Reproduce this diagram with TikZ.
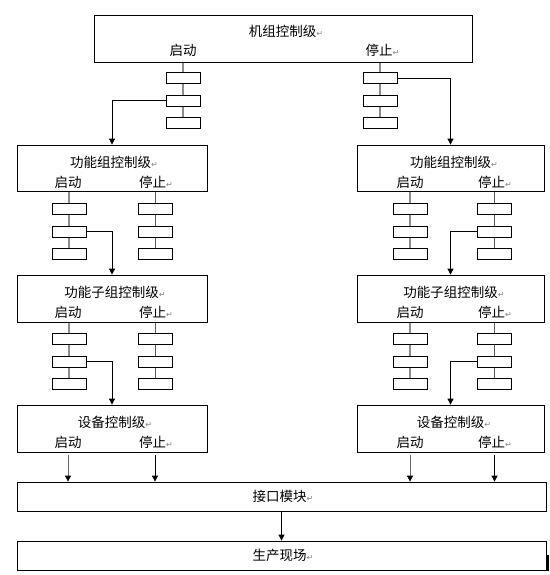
\documentclass[tikz,border=0pt]{standalone}
\usepackage{fontspec}
\setmainfont{Noto Sans CJK SC}
\newfontfamily\dejavu{DejaVu Sans}
\usetikzlibrary{arrows.meta,backgrounds}
\newcommand\rmk{{\dejavu\fontsize{8}{8}\selectfont\color{gray}↵}}
\newcommand\smallcol[5]{%
  \node[sb] (#1 1) at (#2,#3) {};
  \node[sb] (#1 2) at (#2,#4) {};
  \node[sb] (#1 3) at (#2,#5) {};}
\begin{document}
\begin{tikzpicture}[x=1pt,y=-1pt, font=\fontsize{13.5}{15}\selectfont,
  box/.style={draw, line width=0.8pt, fill=white, inner sep=0pt},
  sb/.style={box, minimum width=34pt, minimum height=11pt},
  txt/.style={inner sep=0pt},
  arr/.style={line width=0.8pt, -{Triangle[width=6pt,length=6pt,black]}},
  sarr/.style={arr, draw=black!60},
  gline/.style={line width=1.4pt, black!45},
  dline/.style={line width=1pt, black!65}]
\useasboundingbox (0,0) rectangle (549,575);
% level boxes
\node[box, minimum width=378pt, minimum height=47pt] (top) at (283,38.5) {};
\node[box, minimum width=190pt, minimum height=46pt] (fgL) at (112,168) {};
\node[box, minimum width=187pt, minimum height=46pt] (fgR) at (450.5,168) {};
\node[box, minimum width=190pt, minimum height=47pt] (fsgL) at (112,298.5) {};
\node[box, minimum width=187pt, minimum height=47pt] (fsgR) at (450.5,298.5) {};
\node[box, minimum width=190pt, minimum height=47pt] (devL) at (112,428.5) {};
\node[box, minimum width=187pt, minimum height=47pt] (devR) at (450.5,428.5) {};
\node[box, minimum width=529pt, minimum height=29pt] (iface) at (281.5,496.5) {};
\node[box, minimum width=529pt, minimum height=29pt] (prod) at (281.5,555.5) {};
% texts
\node[txt] (topT) at (286,31) {机组控制级\rmk};
\node[txt] (topS) at (183,50) {启动};
\node[txt, anchor=west] (topP) at (365.5,50) {停止\rmk};
\node[txt] (fgLT) at (114,162) {功能组控制级\rmk};
\node[txt] (fgLS) at (68,182) {启动};
\node[txt, anchor=west] (fgLP) at (139,182) {停止\rmk};
\node[txt] (fgRT) at (454,162) {功能组控制级\rmk};
\node[txt] (fgRS) at (410,182) {启动};
\node[txt, anchor=west] (fgRP) at (478,182) {停止\rmk};
\node[txt] (fsgLT) at (115,292) {功能子组控制级\rmk};
\node[txt] (fsgLS) at (68,312) {启动};
\node[txt, anchor=west] (fsgLP) at (139,312) {停止\rmk};
\node[txt] (fsgRT) at (454,292) {功能子组控制级\rmk};
\node[txt] (fsgRS) at (410,312) {启动};
\node[txt, anchor=west] (fsgRP) at (478,312) {停止\rmk};
\node[txt] (devLT) at (115,422) {设备控制级\rmk};
\node[txt] (devLS) at (68,442) {启动};
\node[txt, anchor=west] (devLP) at (139,442) {停止\rmk};
\node[txt] (devRT) at (454,422) {设备控制级\rmk};
\node[txt] (devRS) at (410,442) {启动};
\node[txt, anchor=west] (devRP) at (478,442) {停止\rmk};
\node[txt] (ifaceT) at (283,496.5) {接口模块\rmk};
\node[txt] (prodT) at (283,555.5) {生产现场\rmk};
% small boxes
\smallcol{tA}{183}{78}{100.5}{122.5}
\smallcol{tB}{380}{78}{100.5}{122.5}
\smallcol{fLA}{69}{208.5}{231.5}{253.5}
\smallcol{fLB}{155}{208.5}{231.5}{253.5}
\smallcol{fRA}{410}{208.5}{231.5}{253.5}
\smallcol{fRB}{494.5}{208.5}{231.5}{253.5}
\smallcol{sLA}{69}{338.5}{361.5}{383.5}
\smallcol{sLB}{155}{338.5}{361.5}{383.5}
\smallcol{sRA}{410}{338.5}{361.5}{383.5}
\smallcol{sRB}{494.5}{338.5}{361.5}{383.5}
% chain lines behind small boxes
\begin{scope}[on background layer]
\draw[gline] (top.south -| tA 1) -- (tA 3.north);
\draw[gline] (top.south -| tB 1) -- (tB 3.north);
\draw[gline] (fgL.south -| fLA 1) -- (fLA 3.north);
\draw[dline] (fgL.south -| fLB 1) -- (fLB 3.north);
\draw[gline] (fgR.south -| fRA 1) -- (fRA 3.north);
\draw[dline] (fgR.south -| fRB 1) -- (fRB 3.north);
\draw[gline] (fsgL.south -| sLA 1) -- (sLA 3.north);
\draw[dline] (fsgL.south -| sLB 1) -- (sLB 3.north);
\draw[gline] (fsgR.south -| sRA 1) -- (sRA 3.north);
\draw[dline] (fsgR.south -| sRB 1) -- (sRB 3.north);
\end{scope}
% arrows
\draw[arr] (tA 2.west) -| (fgL.north);
\draw[arr] (tB 1.east) -| (fgR.north);
\draw[arr] (fLA 2.east) -| (fsgL.north);
\draw[arr] (fRB 2.west) -| (fsgR.north);
\draw[arr] (sLA 2.east) -| (devL.north);
\draw[arr] (sRB 2.west) -| (devR.north);
\draw[sarr] ([yshift=-3pt]devL.south -| devLS) -- (iface.north -| devLS);
\draw[arr] ([yshift=-3pt]devL.south -| sLB 1) -- (iface.north -| sLB 1);
\draw[sarr] ([yshift=-3pt]devR.south -| sRA 1) -- (iface.north -| sRA 1);
\draw[arr] ([yshift=-3pt]devR.south -| sRB 1) -- (iface.north -| sRB 1);
\draw[arr] (iface.south) -- (prod.north);
\draw[line width=1.5pt] (548,555) -- (548,571);
\end{tikzpicture}
\end{document}
